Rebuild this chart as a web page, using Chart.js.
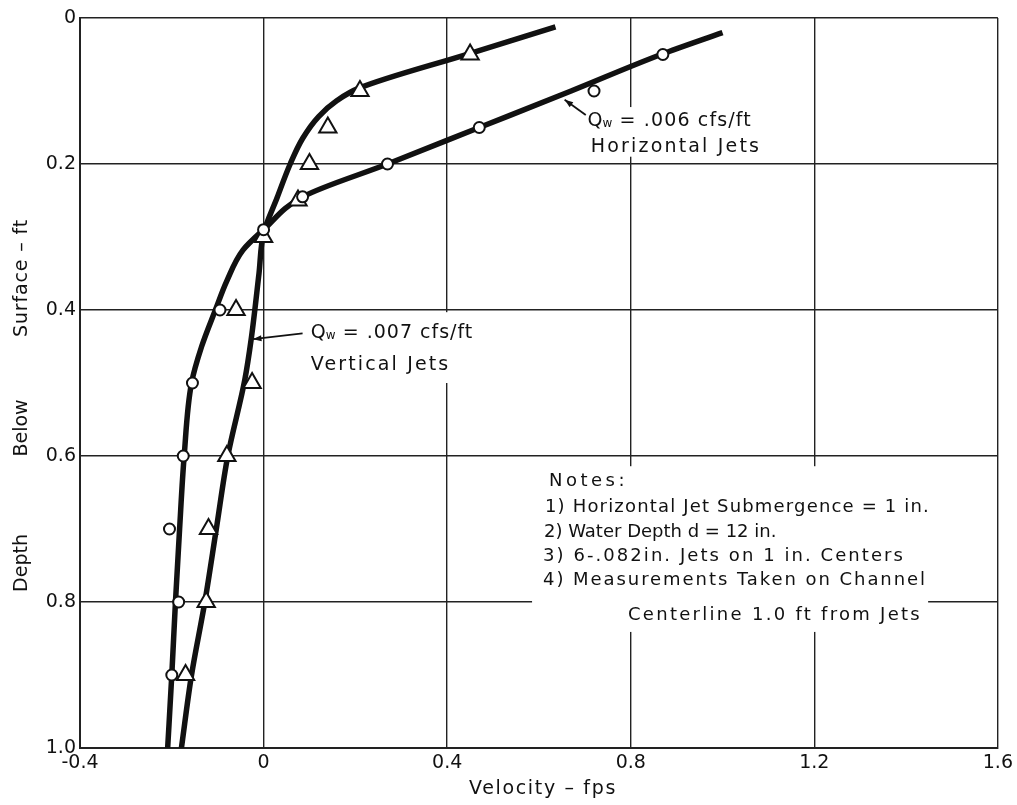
<!DOCTYPE html>
<html>
<head>
<meta charset="utf-8">
<script src="https://cdn.jsdelivr.net/npm/chart.js@4"></script>
<style>
  html, body { margin: 0; padding: 0; background: #fff; }
</style>
</head>
<body>
<canvas id="chart" width="1017" height="805"></canvas>
<script>
// tick labels
const velTicks = ['-0.4', '0', '0.4', '0.8', '1.2', '1.6'];
const depthTicks = ['0', '0.2', '0.4', '0.6', '0.8', '1.0'];

// measured points, horizontal jets (circles)
const horizVel   = [0.87, 0.72, 0.47, 0.27, 0.085, 0.0, -0.095, -0.155, -0.175, -0.205, -0.185, -0.20];
const horizDepth = [0.05, 0.10, 0.15, 0.20, 0.245, 0.29, 0.40, 0.50, 0.60, 0.70, 0.80, 0.90];

// measured points, vertical jets (triangles)
const vertVel   = [0.45, 0.21, 0.14, 0.10, 0.075, 0.0, -0.06, -0.025, -0.08, -0.12, -0.125, -0.17];
const vertDepth = [0.05, 0.10, 0.15, 0.20, 0.25, 0.30, 0.40, 0.50, 0.60, 0.70, 0.80, 0.90];

// faired curves through the measurements
const horizFitVel   = [1.00, 0.866, 0.67, 0.47, 0.27, 0.085, 0.0, -0.045, -0.08, -0.105, -0.135, -0.157, -0.173, -0.183, -0.192, -0.20, -0.209];
const horizFitDepth = [0.02, 0.05, 0.10, 0.15, 0.20, 0.245, 0.29, 0.318, 0.36, 0.40, 0.45, 0.50, 0.60, 0.70, 0.80, 0.90, 1.0];
const vertFitVel   = [0.636, 0.447, 0.208, 0.16, 0.12, 0.085, 0.058, 0.029, 0.0, -0.01, -0.027, -0.041, -0.078, -0.103, -0.128, -0.157, -0.179];
const vertFitDepth = [0.012, 0.049, 0.096, 0.113, 0.135, 0.165, 0.20, 0.247, 0.295, 0.35, 0.44, 0.496, 0.60, 0.70, 0.80, 0.90, 1.0];

const pts = (xs, ys) => xs.map((v, i) => ({ x: v, y: ys[i] }));

const INK = '#111';
const FONT = '"DejaVu Sans", sans-serif';

// text stretched to a given width with letter spacing
function spaced(ctx, str, x, y, w) {
  ctx.letterSpacing = '0px';
  const base = ctx.measureText(str).width;
  const ls = Math.max(0, (w - base) / str.length);
  ctx.letterSpacing = ls + 'px';
  ctx.fillText(str, x, y);
  ctx.letterSpacing = '0px';
}

// "Qw" with a small w, then the rest of the line
function qLabel(ctx, rest, x, y, endX) {
  ctx.font = '19px ' + FONT;
  ctx.fillText('Q', x, y);
  const qw = ctx.measureText('Q').width;
  ctx.font = '12px ' + FONT;
  ctx.fillText('w', x + qw, y + 3);
  const ww = ctx.measureText('w').width;
  ctx.font = '19px ' + FONT;
  const start = x + qw + ww;
  spaced(ctx, rest, start, y, endX - start);
}

function arrow(ctx, x0, y0, x1, y1) {
  ctx.strokeStyle = INK;
  ctx.fillStyle = INK;
  ctx.lineWidth = 1.8;
  ctx.beginPath();
  ctx.moveTo(x0, y0);
  ctx.lineTo(x1, y1);
  ctx.stroke();
  const a = Math.atan2(y1 - y0, x1 - x0);
  ctx.beginPath();
  ctx.moveTo(x1, y1);
  ctx.lineTo(x1 - 9 * Math.cos(a - 0.35), y1 - 9 * Math.sin(a - 0.35));
  ctx.lineTo(x1 - 9 * Math.cos(a + 0.35), y1 - 9 * Math.sin(a + 0.35));
  ctx.closePath();
  ctx.fill();
}

const annotations = {
  id: 'annotations',
  // blank out grid behind the lettering
  beforeDatasetsDraw(chart) {
    const { ctx, scales: { x, y } } = chart;
    const box = (v0, d0, v1, d1) => {
      const l = x.getPixelForValue(v0), r = x.getPixelForValue(v1);
      const t = y.getPixelForValue(d0), b = y.getPixelForValue(d1);
      ctx.fillRect(l, t, r - l, b - t);
    };
    ctx.save();
    ctx.fillStyle = '#fff';
    box(0.70, 0.122, 1.10, 0.19);
    box(0.09, 0.403, 0.44, 0.50);
    box(0.585, 0.614, 1.448, 0.841);
    ctx.restore();
  },
  afterDraw(chart) {
    const { ctx, scales: { x, y } } = chart;
    const X = v => x.getPixelForValue(v);
    const Y = d => y.getPixelForValue(d);
    ctx.save();
    ctx.fillStyle = INK;
    ctx.textBaseline = 'middle';
    ctx.textAlign = 'left';

    // curve labels
    arrow(ctx, X(0.702), Y(0.133), X(0.656), Y(0.112));
    qLabel(ctx, ' = .006 cfs/ft', X(0.706), Y(0.141), X(1.064));
    ctx.fillStyle = INK;
    spaced(ctx, 'Horizontal Jets', X(0.713), Y(0.177), X(1.084) - X(0.713));

    arrow(ctx, X(0.085), Y(0.432), X(-0.023), Y(0.440));
    qLabel(ctx, ' = .007 cfs/ft', X(0.103), Y(0.432), X(0.457));
    ctx.fillStyle = INK;
    spaced(ctx, 'Vertical Jets', X(0.103), Y(0.475), X(0.407) - X(0.103));

    // notes
    ctx.font = '18px ' + FONT;
    const notes = [
      ['Notes:', 549, 481, 79],
      ['1) Horizontal Jet Submergence = 1 in.', 545, 507, 385],
      ['2) Water Depth d = 12 in.', 544, 532, 228],
      ['3) 6-.082in. Jets on 1 in. Centers', 543, 556, 362],
      ['4) Measurements Taken on Channel', 543, 580, 384],
      ['Centerline 1.0 ft from Jets', 628, 615, 294]
    ];
    notes.forEach(([s, px, py, w]) => spaced(ctx, s, px, py, w));

    // axis titles
    ctx.font = '19px ' + FONT;
    ctx.textAlign = 'center';
    spaced(ctx, 'Velocity \u2013 fps', 543, 789, 148);

    const vert = (s, cy, w) => {
      ctx.save();
      ctx.translate(22, cy);
      ctx.rotate(-Math.PI / 2);
      spaced(ctx, s, 0, 0, w);
      ctx.restore();
    };
    vert('Depth', 563, 54);
    vert('Below', 428, 52);
    vert('Surface \u2013 ft', 278, 118);
    ctx.restore();
  }
};

// faired curve, splined along depth
const lineSet = (xs, ys) => ({
  data: pts(xs, ys),
  showLine: true,
  indexAxis: 'y',
  cubicInterpolationMode: 'monotone',
  borderColor: INK,
  borderWidth: 5.5,
  pointRadius: 0,
  fill: false,
  order: 1
});

const markerSet = (xs, ys, style, r) => ({
  data: pts(xs, ys),
  showLine: false,
  pointStyle: style,
  pointRadius: r,
  pointBackgroundColor: '#fff',
  pointBorderColor: INK,
  pointBorderWidth: 2,
  order: 0
});

new Chart(document.getElementById('chart'), {
  type: 'scatter',
  data: {
    datasets: [
      markerSet(horizVel, horizDepth, 'circle', 5.5),
      markerSet(vertVel, vertDepth, 'triangle', 10),
      lineSet(horizFitVel, horizFitDepth),
      lineSet(vertFitVel, vertFitDepth)
    ]
  },
  options: {
    responsive: false,
    animation: false,
    layout: { padding: { top: 18, right: 17, left: 0, bottom: 0 } },
    plugins: { legend: { display: false }, tooltip: { enabled: false } },
    scales: {
      x: {
        type: 'linear', min: -0.4, max: 1.6,
        afterFit: s => { s.height = 57; },
        ticks: {
          stepSize: 0.4, color: INK, padding: 4,
          font: { family: FONT, size: 19 },
          callback: v => velTicks[Math.round((v + 0.4) / 0.4)]
        },
        grid: { color: '#222', lineWidth: 1.4, drawTicks: false },
        border: { color: '#222', width: 2 }
      },
      y: {
        type: 'linear', min: 0, max: 1, reverse: true,
        afterFit: s => { s.width = 80; },
        ticks: {
          stepSize: 0.2, color: INK, padding: 4,
          font: { family: FONT, size: 19 },
          callback: v => depthTicks[Math.round(v / 0.2)]
        },
        grid: { color: '#222', lineWidth: 1.4, drawTicks: false },
        border: { color: '#222', width: 2 }
      }
    }
  },
  plugins: [annotations]
});
</script>
</body>
</html>
